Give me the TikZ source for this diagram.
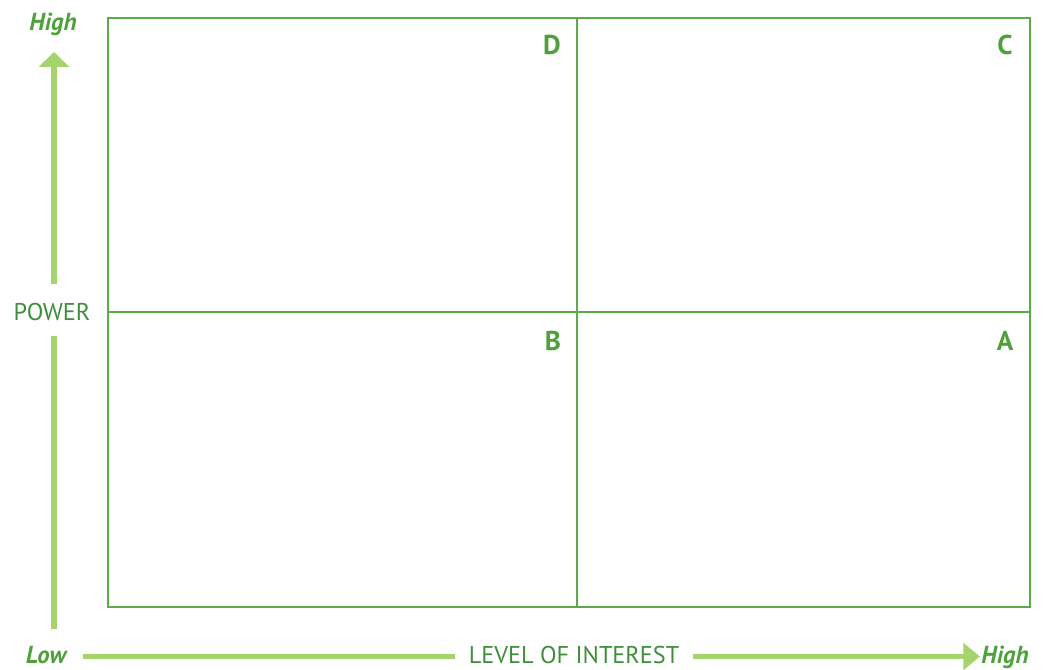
\documentclass[tikz,border=0pt]{standalone}
\usepackage{fontspec}
\setmainfont{PT Sans}
\usepackage{tikz}
\usetikzlibrary{arrows.meta,positioning}
\definecolor{gridline}{HTML}{5CAB47}
\definecolor{quadtext}{HTML}{4EA13A}
\definecolor{axistext}{HTML}{3F8E3B}
\definecolor{axisarrow}{HTML}{A6D46C}

\begin{document}
\begin{tikzpicture}[x=0.02cm, y=-0.02cm,
    grid/.style={draw=gridline, line width=0.8pt},
    quadname/.style={anchor=base, text=quadtext, font=\fontsize{15.5}{18}\selectfont\bfseries, inner sep=0pt},
    axisname/.style={anchor=base, text=axistext, font=\fontsize{13.8}{16}\selectfont, inner sep=0pt},
    axisend/.style={anchor=base, text=quadtext, font=\fontsize{14}{17}\selectfont\bfseries\itshape, inner sep=0pt},
    axis/.style={draw=axisarrow, line width=3.4pt}
]
    \useasboundingbox (0,0) rectangle (1047,669);

    % Grid
    \coordinate (tl) at (108,18);
    \coordinate (br) at (1030,607);
    \draw[grid] (tl) rectangle (br);
    \draw[grid] (577,18) -- (577,607);
    \draw[grid] (108,312) -- (1030,312);

    % Quadrants
    \node[quadname] (qd) at (552,55) {D};
    \node[quadname] (qc) at (1005,55) {C};
    \node[quadname] (qb) at (553,350) {B};
    \node[quadname] (qa) at (1005,350) {A};

    % Power axis
    \node[axisend] (vhigh) at (53,31) {High};
    \node[axisname] (power) at (52,320) {POWER};
    \coordinate (vlow) at (54,629);
    \coordinate (vtop) at (54,52);
    \draw[axis, shorten >=0.3cm] (vlow) -- (vlow |- power.south);
    \draw[axis, shorten <=0.36cm, -{Triangle[width=17pt, length=8.5pt]}] (vtop |- power.north) -- (vtop);

    % Interest axis
    \node[axisend] (hlow) at (46,663) {Low};
    \node[axisname] (interest) at (574,663) {LEVEL OF INTEREST};
    \node[axisend] (hhigh) at (1005,663) {High};
    \coordinate (hstart) at (83,656.5);
    \coordinate (htip) at (980,656.5);
    \draw[axis, shorten >=0.26cm] (hstart) -- (hstart -| interest.west);
    \draw[axis, shorten <=0.26cm, -{Triangle[width=15pt, length=9.5pt]}] (htip -| interest.east) -- (htip);
\end{tikzpicture}
\end{document}
